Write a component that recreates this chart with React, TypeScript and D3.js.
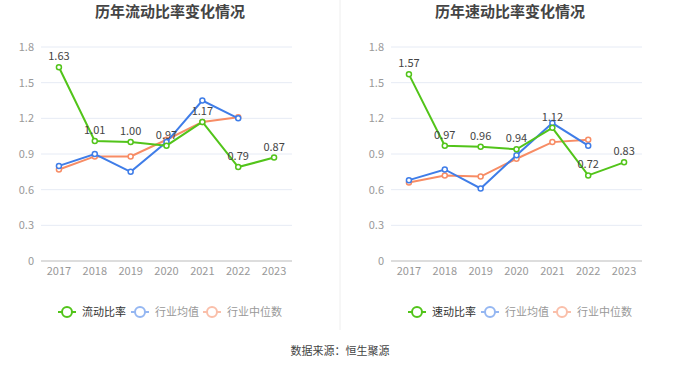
import React from "react";
import * as d3 from "d3";

const years = ["2017", "2018", "2019", "2020", "2021", "2022", "2023"];
const yTicks = [0, 0.3, 0.6, 0.9, 1.2, 1.5, 1.8];

// 流动比率
const currentRatio = [1.63, 1.01, 1.0, 0.97, 1.17, 0.79, 0.87];
const currentIndustryMean = [0.8, 0.9, 0.75, 1.0, 1.35, 1.2];
const currentIndustryMedian = [0.77, 0.88, 0.88, 1.02, 1.17, 1.21];

// 速动比率
const quickRatio = [1.57, 0.97, 0.96, 0.94, 1.12, 0.72, 0.83];
const quickIndustryMean = [0.68, 0.77, 0.61, 0.89, 1.16, 0.97];
const quickIndustryMedian = [0.66, 0.72, 0.71, 0.86, 1.0, 1.02];

const GREEN = "#52c41a";
const BLUE = "#3f7de8";
const ORANGE = "#f78c65";
const FONT = "'Noto Sans CJK SC', 'Noto Sans', sans-serif";

interface PanelProps {
  x0: number;
  titleX: number;
  title: string;
  name: string;
  main: number[];
  mean: number[];
  median: number[];
}

function Panel({ x0, titleX, title, name, main, mean, median }: PanelProps) {
  const left = x0 + 41;
  const right = x0 + 292;
  const top = 47;
  const bottom = 261;

  const xScale = d3.scaleBand().domain(years).range([left, right]);
  const yScale = d3.scaleLinear().domain([0, 1.8]).range([bottom, top]);
  const cx = (i: number) => (xScale(years[i]) || 0) + xScale.bandwidth() / 2;

  const line = d3
    .line<number>()
    .x((_, i) => cx(i))
    .y((d) => yScale(d));

  const series = [
    { values: median, color: ORANGE },
    { values: mean, color: BLUE },
    { values: main, color: GREEN },
  ];

  const legend = [
    { label: name, color: GREEN, x: x0 + 58, textColor: "#333", op: 1 },
    { label: "行业均值", color: BLUE, x: x0 + 131, textColor: "#999", op: 0.55 },
    { label: "行业中位数", color: ORANGE, x: x0 + 203, textColor: "#999", op: 0.55 },
  ];

  return (
    <g fontFamily={FONT}>
      <text
        x={titleX}
        y={17}
        textAnchor="middle"
        fontSize={15}
        fontWeight="bold"
        fill="#444"
      >
        {title}
      </text>

      {yTicks.map((t) => (
        <g key={t}>
          {t > 0 && (
            <line
              x1={left}
              x2={right}
              y1={yScale(t)}
              y2={yScale(t)}
              stroke="#e6ebf5"
              strokeWidth={1}
            />
          )}
          <text
            x={left - 7}
            y={yScale(t)}
            dy="0.35em"
            textAnchor="end"
            fontSize={11}
            fill="#999"
          >
            {t === 0 ? "0" : t.toFixed(1)}
          </text>
        </g>
      ))}
      <line x1={left} x2={right} y1={bottom} y2={bottom} stroke="#bbb" strokeWidth={1} />
      {years.map((y, i) => (
        <text key={y} x={cx(i)} y={bottom + 14} textAnchor="middle" fontSize={11} fill="#999">
          {y}
        </text>
      ))}

      {series.map((s, k) => (
        <g key={k}>
          <path d={line(s.values) || ""} fill="none" stroke={s.color} strokeWidth={2} />
          {s.values.map((v, i) => (
            <circle
              key={i}
              cx={cx(i)}
              cy={yScale(v)}
              r={2.5}
              fill="#fff"
              stroke={s.color}
              strokeWidth={1.5}
            />
          ))}
        </g>
      ))}

      {main.map((v, i) => (
        <text
          key={i}
          x={cx(i)}
          y={yScale(v) - 7}
          textAnchor="middle"
          fontSize={11}
          fill="#444"
        >
          {v.toFixed(2)}
        </text>
      ))}

      {legend.map((l) => (
        <g key={l.label}>
          <g opacity={l.op}>
            <line x1={l.x} x2={l.x + 18} y1={312} y2={312} stroke={l.color} strokeWidth={2} />
            <circle cx={l.x + 9} cy={312} r={5} fill="#fff" stroke={l.color} strokeWidth={2} />
          </g>
          <text x={l.x + 24} y={312} dy="0.35em" fontSize={11} fill={l.textColor}>
            {l.label}
          </text>
        </g>
      ))}
    </g>
  );
}

export default function App() {
  return (
    <svg
      width={680}
      height={367}
      style={{ position: "absolute", left: 0, top: 0, background: "#fff" }}
    >
      <rect width={680} height={367} fill="#fff" />
      <line x1={340} x2={340} y1={0} y2={330} stroke="#eee" strokeWidth={1} />
      <Panel
        x0={0}
        titleX={170}
        title="历年流动比率变化情况"
        name="流动比率"
        main={currentRatio}
        mean={currentIndustryMean}
        median={currentIndustryMedian}
      />
      <Panel
        x0={350}
        titleX={510}
        title="历年速动比率变化情况"
        name="速动比率"
        main={quickRatio}
        mean={quickIndustryMean}
        median={quickIndustryMedian}
      />
      <text
        x={340}
        y={351}
        dy="0.35em"
        textAnchor="middle"
        fontSize={11}
        fill="#444"
        fontFamily={FONT}
      >
        数据来源：恒生聚源
      </text>
    </svg>
  );
}
